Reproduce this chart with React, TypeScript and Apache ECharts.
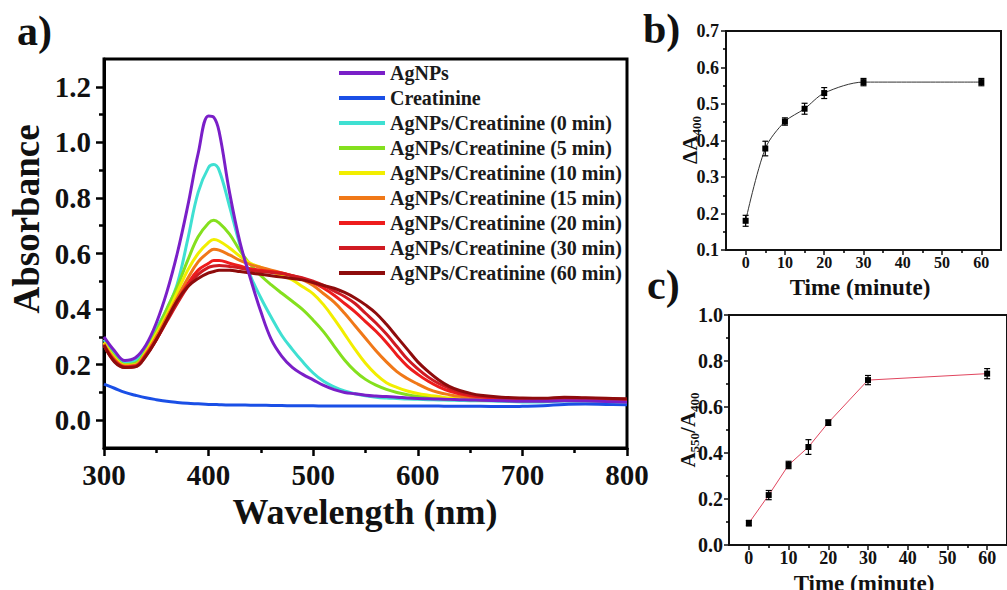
import React, { useEffect, useRef } from 'react';
import * as echarts from 'echarts';

const SERIF = 'Liberation Serif';

// ---------- Panel a: UV-vis spectra ----------
const wavelengths = [300, 310, 320, 330, 340, 350, 360, 370, 380, 390, 400, 405, 410, 420, 430, 440, 450, 460, 470, 480, 490, 500, 510, 520, 530, 540, 550, 560, 570, 580, 590, 600, 610, 620, 630, 640, 650, 660, 680, 700, 720, 740, 760, 780, 800];

const agnps = [0.30, 0.25, 0.215, 0.225, 0.27, 0.35, 0.46, 0.60, 0.77, 0.96, 1.095, 1.09, 1.04, 0.82, 0.64, 0.51, 0.39, 0.29, 0.23, 0.19, 0.165, 0.145, 0.125, 0.11, 0.10, 0.095, 0.09, 0.087, 0.085, 0.083, 0.08, 0.078, 0.077, 0.076, 0.075, 0.074, 0.073, 0.072, 0.07, 0.068, 0.068, 0.07, 0.069, 0.067, 0.065];
const creatinine = [0.13, 0.115, 0.10, 0.09, 0.081, 0.074, 0.068, 0.064, 0.061, 0.059, 0.057, 0.057, 0.056, 0.055, 0.055, 0.054, 0.054, 0.053, 0.053, 0.052, 0.052, 0.052, 0.051, 0.051, 0.051, 0.051, 0.051, 0.051, 0.051, 0.051, 0.051, 0.051, 0.051, 0.051, 0.05, 0.05, 0.05, 0.05, 0.049, 0.05, 0.052, 0.057, 0.058, 0.057, 0.056];
const min0 = [0.29, 0.24, 0.205, 0.215, 0.265, 0.33, 0.40, 0.49, 0.65, 0.82, 0.91, 0.92, 0.90, 0.77, 0.63, 0.52, 0.44, 0.37, 0.305, 0.255, 0.21, 0.17, 0.14, 0.12, 0.105, 0.095, 0.088, 0.083, 0.08, 0.078, 0.076, 0.075, 0.074, 0.073, 0.072, 0.071, 0.07, 0.07, 0.068, 0.066, 0.066, 0.069, 0.068, 0.067, 0.065];
const min5 = [0.28, 0.23, 0.20, 0.205, 0.25, 0.32, 0.40, 0.48, 0.575, 0.66, 0.71, 0.72, 0.71, 0.67, 0.61, 0.56, 0.52, 0.487, 0.457, 0.428, 0.398, 0.36, 0.318, 0.267, 0.217, 0.177, 0.147, 0.126, 0.111, 0.10, 0.092, 0.086, 0.082, 0.078, 0.076, 0.075, 0.074, 0.073, 0.071, 0.07, 0.07, 0.072, 0.071, 0.07, 0.068];
const min10 = [0.28, 0.225, 0.198, 0.20, 0.245, 0.31, 0.38, 0.46, 0.54, 0.60, 0.64, 0.65, 0.645, 0.62, 0.59, 0.565, 0.55, 0.535, 0.52, 0.505, 0.48, 0.455, 0.415, 0.365, 0.31, 0.255, 0.205, 0.165, 0.135, 0.118, 0.105, 0.096, 0.09, 0.085, 0.08, 0.077, 0.075, 0.074, 0.072, 0.071, 0.071, 0.074, 0.073, 0.072, 0.07];
const min15 = [0.275, 0.22, 0.195, 0.198, 0.24, 0.30, 0.37, 0.44, 0.51, 0.57, 0.605, 0.615, 0.612, 0.595, 0.575, 0.56, 0.55, 0.54, 0.53, 0.52, 0.505, 0.485, 0.455, 0.425, 0.385, 0.34, 0.295, 0.25, 0.21, 0.175, 0.15, 0.13, 0.112, 0.10, 0.092, 0.086, 0.082, 0.079, 0.075, 0.073, 0.073, 0.076, 0.075, 0.074, 0.072];
const min20 = [0.27, 0.215, 0.192, 0.195, 0.235, 0.29, 0.36, 0.43, 0.49, 0.54, 0.565, 0.575, 0.575, 0.565, 0.555, 0.545, 0.54, 0.535, 0.53, 0.52, 0.51, 0.495, 0.475, 0.45, 0.42, 0.39, 0.355, 0.32, 0.28, 0.235, 0.195, 0.165, 0.14, 0.12, 0.105, 0.095, 0.088, 0.084, 0.078, 0.075, 0.075, 0.078, 0.077, 0.076, 0.074];
const min30 = [0.27, 0.212, 0.19, 0.193, 0.232, 0.29, 0.355, 0.42, 0.48, 0.525, 0.55, 0.555, 0.557, 0.553, 0.548, 0.54, 0.535, 0.532, 0.528, 0.52, 0.512, 0.50, 0.485, 0.465, 0.445, 0.42, 0.385, 0.35, 0.31, 0.265, 0.22, 0.185, 0.155, 0.132, 0.115, 0.10, 0.092, 0.087, 0.08, 0.077, 0.077, 0.08, 0.079, 0.077, 0.075];
const min60 = [0.27, 0.21, 0.19, 0.192, 0.23, 0.29, 0.36, 0.43, 0.48, 0.51, 0.53, 0.535, 0.54, 0.54, 0.535, 0.53, 0.525, 0.52, 0.515, 0.51, 0.505, 0.495, 0.485, 0.475, 0.46, 0.44, 0.415, 0.385, 0.345, 0.30, 0.255, 0.21, 0.175, 0.145, 0.122, 0.107, 0.097, 0.09, 0.083, 0.08, 0.079, 0.083, 0.081, 0.079, 0.077];

const spectraNames = ['AgNPs', 'Creatinine', 'AgNPs/Creatinine (0 min)', 'AgNPs/Creatinine (5 min)', 'AgNPs/Creatinine (10 min)', 'AgNPs/Creatinine (15 min)', 'AgNPs/Creatinine (20 min)', 'AgNPs/Creatinine (30 min)', 'AgNPs/Creatinine (60 min)'];
const spectraValues = [agnps, creatinine, min0, min5, min10, min15, min20, min30, min60];
const spectraColors = ['#7a1fc8', '#1a4fe6', '#3fe0d2', '#84e01e', '#f2ee00', '#f07818', '#ee1c1c', '#d01a22', '#8e0c0c'];

const absTicks = [0, 0.2, 0.4, 0.6, 0.8, 1.0, 1.2];
const absMinorTicks = [0.1, 0.3, 0.5, 0.7, 0.9, 1.1];
const wlMinorTicks = [350, 450, 550, 650, 750];

// ---------- Panel b ----------
const timeB = [0, 5, 10, 15, 20, 30, 60];
const deltaA400 = [0.18, 0.378, 0.452, 0.487, 0.53, 0.56, 0.56];
const deltaA400Err = [0.015, 0.02, 0.01, 0.015, 0.015, 0.01, 0.01];
const bMinorY = [0.15, 0.25, 0.35, 0.45, 0.55, 0.65];

// ---------- Panel c ----------
const timeC = [0, 5, 10, 15, 20, 30, 60];
const ratio550400 = [0.095, 0.217, 0.348, 0.426, 0.532, 0.717, 0.745];
const ratioErr = [0.012, 0.02, 0.016, 0.032, 0.012, 0.02, 0.022];
const cMinorY = [0.1, 0.3, 0.5, 0.7, 0.9];

const timeTicks = [0, 10, 20, 30, 40, 50, 60];
const timeMinorTicks = [5, 15, 25, 35, 45, 55];

const errorRender = (params: any, api: any) => {
  const x = api.value(0);
  const y = api.value(1);
  const e = api.value(2);
  const hi = api.coord([x, y + e]);
  const lo = api.coord([x, y - e]);
  const w = 3;
  const style = { stroke: '#000', lineWidth: 1.2 };
  return {
    type: 'group',
    children: [
      { type: 'line', shape: { x1: hi[0], y1: hi[1], x2: lo[0], y2: lo[1] }, style },
      { type: 'line', shape: { x1: hi[0] - w, y1: hi[1], x2: hi[0] + w, y2: hi[1] }, style },
      { type: 'line', shape: { x1: lo[0] - w, y1: lo[1], x2: lo[0] + w, y2: lo[1] }, style },
    ],
  };
};

const labelStyle = (size: number, margin: number) => ({
  fontFamily: SERIF,
  fontWeight: 'bold',
  fontSize: size,
  color: '#111',
  margin,
});

function mainAxis(grid: number, min: number, max: number, opts: any) {
  const { axisLine, ...rest } = opts;
  return {
    type: 'value',
    gridIndex: grid,
    min,
    max,
    splitLine: { show: false },
    axisLine: { onZero: false, ...axisLine },
    ...rest,
  };
}

function minorAxis(grid: number, min: number, max: number, position: string, values: number[], length: number, width: number) {
  return {
    type: 'value',
    gridIndex: grid,
    min,
    max,
    position,
    splitLine: { show: false },
    axisLine: { show: false, onZero: false },
    axisLabel: { show: false },
    axisTick: { show: true, customValues: values, length, lineStyle: { color: '#000', width } },
  };
}

const textEl = (x: number, y: number, text: string, size: number, rotation = 0, align = 'center') => ({
  type: 'text',
  x,
  y,
  rotation,
  style: { text, fontFamily: SERIF, fontWeight: 'bold', fontSize: size, fill: '#111', align, verticalAlign: 'middle' },
});

const subRich = {
  a: { fontFamily: SERIF, fontWeight: 'bold', fontSize: 21, lineHeight: 26, fill: '#111' },
  s: { fontFamily: SERIF, fontWeight: 'bold', fontSize: 13, lineHeight: 13, verticalAlign: 'bottom', fill: '#111' },
};

export default function App() {
  const ref = useRef<HTMLDivElement>(null);

  useEffect(() => {
    if (!ref.current) return;
    const chart = echarts.init(ref.current, undefined, { renderer: 'svg' });

    const spectraSeries = spectraNames.map((name, k) => ({
      name,
      type: 'line',
      xAxisIndex: 0,
      yAxisIndex: 0,
      smooth: 0.4,
      showSymbol: false,
      symbol: 'none',
      data: wavelengths.map((w, i) => [w, spectraValues[k][i]]),
      lineStyle: { color: spectraColors[k], width: 3 },
      itemStyle: { color: spectraColors[k] },
      z: 2 + (k === 0 ? 9 : k),
    }));

    const option: any = {
      animation: false,
      backgroundColor: '#fff',
      grid: [
        { left: 104, top: 59, width: 523, height: 389, show: true, borderColor: '#000', borderWidth: 3, backgroundColor: 'transparent' },
        { left: 726, top: 31, width: 275, height: 219, show: true, borderColor: '#111', borderWidth: 2, backgroundColor: 'transparent' },
        { left: 729, top: 315, width: 284, height: 230, show: true, borderColor: '#111', borderWidth: 2, backgroundColor: 'transparent' },
      ],
      legend: {
        data: spectraNames,
        orient: 'vertical',
        left: 339,
        top: 63,
        padding: 0,
        itemWidth: 46,
        itemHeight: 4,
        itemGap: 5,
        icon: 'rect',
        selectedMode: false,
        textStyle: { fontFamily: SERIF, fontWeight: 'bold', fontSize: 20, lineHeight: 19, color: '#1a1a1a' },
      },
      xAxis: [
        mainAxis(0, 300, 800, {
          interval: 100,
          position: 'bottom',
          axisLine: { lineStyle: { color: '#000', width: 3 } },
          axisTick: { length: 8, lineStyle: { color: '#000', width: 2.5 } },
          axisLabel: labelStyle(29, 12),
        }),
        minorAxis(0, 300, 800, 'bottom', wlMinorTicks, 5, 2.5),
        mainAxis(1, -5, 65, {
          position: 'bottom',
          axisLine: { lineStyle: { color: '#111', width: 2 } },
          axisTick: { customValues: timeTicks, length: 5, lineStyle: { color: '#111', width: 1.5 } },
          axisLabel: { ...labelStyle(16, 4), customValues: timeTicks },
        }),
        minorAxis(1, -5, 65, 'bottom', timeMinorTicks, 3, 1.5),
        mainAxis(2, -5, 65, {
          position: 'bottom',
          axisLine: { lineStyle: { color: '#111', width: 2 } },
          axisTick: { customValues: timeTicks, length: 5, lineStyle: { color: '#111', width: 1.5 } },
          axisLabel: { ...labelStyle(18, 4), customValues: timeTicks },
        }),
        minorAxis(2, -5, 65, 'bottom', timeMinorTicks, 3, 1.5),
      ],
      yAxis: [
        mainAxis(0, -0.1, 1.3, {
          position: 'left',
          axisLine: { lineStyle: { color: '#000', width: 3 } },
          axisTick: { customValues: absTicks, length: 8, lineStyle: { color: '#000', width: 2.5 } },
          axisLabel: { ...labelStyle(29, 13), customValues: absTicks, formatter: (v: number) => v.toFixed(1) },
        }),
        minorAxis(0, -0.1, 1.3, 'left', absMinorTicks, 5, 2.5),
        mainAxis(1, 0.1, 0.7, {
          interval: 0.1,
          position: 'left',
          axisLine: { lineStyle: { color: '#111', width: 2 } },
          axisTick: { length: 5, lineStyle: { color: '#111', width: 1.5 } },
          axisLabel: { ...labelStyle(18, 7), formatter: (v: number) => v.toFixed(1) },
        }),
        minorAxis(1, 0.1, 0.7, 'left', bMinorY, 3, 1.5),
        mainAxis(2, 0, 1, {
          interval: 0.2,
          position: 'left',
          axisLine: { lineStyle: { color: '#111', width: 2 } },
          axisTick: { length: 5, lineStyle: { color: '#111', width: 1.5 } },
          axisLabel: { ...labelStyle(20, 6), formatter: (v: number) => v.toFixed(1) },
        }),
        minorAxis(2, 0, 1, 'left', cMinorY, 3, 1.5),
      ],
      series: [
        ...spectraSeries,
        {
          name: 'deltaA400',
          type: 'line',
          xAxisIndex: 2,
          yAxisIndex: 2,
          smooth: 0.3,
          symbol: 'rect',
          symbolSize: 6,
          data: timeB.map((t, i) => [t, deltaA400[i]]),
          lineStyle: { color: '#333', width: 1 },
          itemStyle: { color: '#000' },
          z: 3,
        },
        {
          name: 'deltaA400err',
          type: 'custom',
          xAxisIndex: 2,
          yAxisIndex: 2,
          renderItem: errorRender,
          encode: { x: 0, y: 1 },
          data: timeB.map((t, i) => [t, deltaA400[i], deltaA400Err[i]]),
          z: 4,
        },
        {
          name: 'ratio',
          type: 'line',
          xAxisIndex: 4,
          yAxisIndex: 4,
          symbol: 'rect',
          symbolSize: 6,
          data: timeC.map((t, i) => [t, ratio550400[i]]),
          lineStyle: { color: '#e0455e', width: 1 },
          itemStyle: { color: '#000' },
          z: 3,
        },
        {
          name: 'ratioerr',
          type: 'custom',
          xAxisIndex: 4,
          yAxisIndex: 4,
          renderItem: errorRender,
          encode: { x: 0, y: 1 },
          data: timeC.map((t, i) => [t, ratio550400[i], ratioErr[i]]),
          z: 4,
        },
      ],
      graphic: [
        textEl(17, 31, 'a)', 42, 0, 'left'),
        textEl(643, 29, 'b)', 42, 0, 'left'),
        textEl(647, 285, 'c)', 42, 0, 'left'),
        textEl(26, 219, 'Absorbance', 37, Math.PI / 2),
        textEl(365, 512, 'Wavelength (nm)', 36),
        textEl(860, 287, 'Time (minute)', 23),
        textEl(864, 583, 'Time (minute)', 23),
        {
          type: 'text', x: 690, y: 140, rotation: Math.PI / 2,
          style: { text: '{a|ΔA}{s|400}', align: 'center', verticalAlign: 'middle', fill: '#111', rich: subRich },
        },
        {
          type: 'text', x: 688, y: 430, rotation: Math.PI / 2,
          style: { text: '{a|A}{s|550}{a|/A}{s|400}', align: 'center', verticalAlign: 'middle', fill: '#111', rich: subRich },
        },
      ],
    };

    chart.setOption(option);
    return () => chart.dispose();
  }, []);

  return (
    <div
      ref={ref}
      style={{ position: 'fixed', left: 0, top: 0, width: 1007, height: 590, overflow: 'hidden', background: '#fff' }}
    />
  );
}
